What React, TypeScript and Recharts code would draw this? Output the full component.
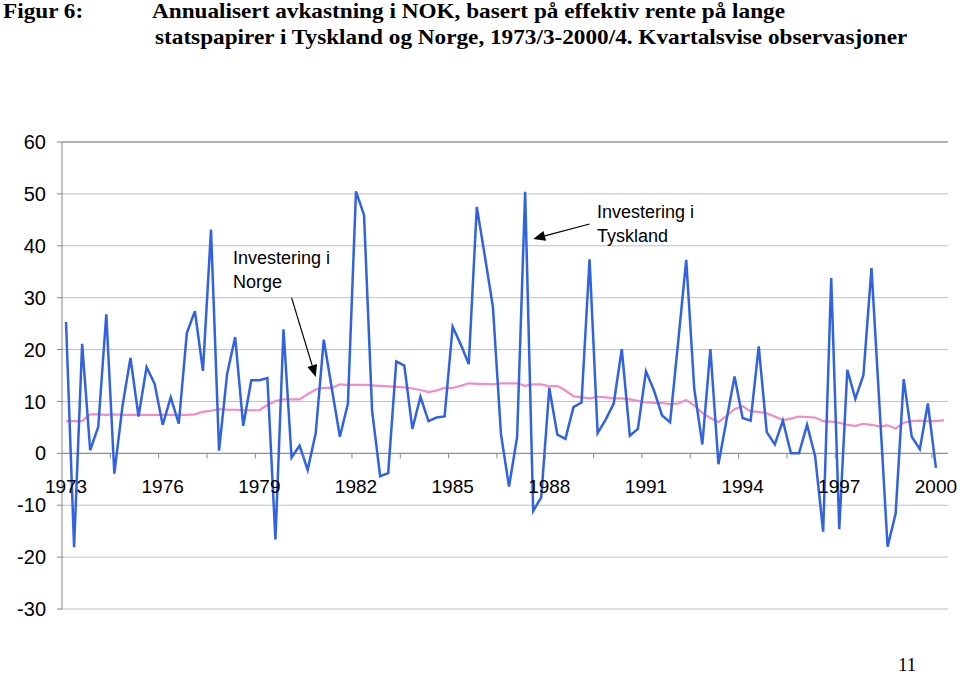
import { CartesianGrid, Line, LineChart, ReferenceLine, XAxis, YAxis } from "recharts";

// Kvartalsvis avkastning, 1973/3 - 2000/4
const tyskland: (number | null)[] = [
  25.3, -18.1, 21.1, 0.6, 5.1, 26.8, -3.9, 9.0, 18.4, 7.1,
  16.6, 13.4, 5.5, 10.8, 5.7, 23.2, 27.4, 15.9, 43.1, 0.5,
  15.3, 22.4, 5.3, 14.1, 14.1, 14.5, -16.6, 23.9, -0.8, 1.5,
  -3.2, 3.9, 21.9, 12.5, 3.2, 9.6, 50.5, 45.9, 8.2, -4.4,
  -3.8, 17.7, 16.9, 4.7, 10.9, 6.2, 6.9, 7.1, 24.4, 21.0,
  17.2, 47.5, 38.0, 28.2, 3.7, -6.4, 3.1, 50.4, -11.1, -8.5,
  12.6, 3.6, 2.8, 8.9, 9.8, 37.4, 3.9, 6.5, 9.6, 20.1,
  3.4, 4.7, 15.8, 12.1, 7.3, 6.0, 21.5, 37.3, 12.4, 1.7,
  20.1, -2.1, 6.4, 14.8, 6.8, 6.3, 20.6, 4.1, 1.7, 6.3,
  0.0, 0.0, 5.5, -0.5, -15.1, 33.8, -14.6, 16.1, 10.5, 15.1,
  35.7, 9.0, -18.0, -11.6, 14.3, 3.2, 0.8, 9.6, -2.8, null,
];

const norge: number[] = [
  6.2, 6.2, 6.2, 7.5, 7.5, 7.4, 7.5, 7.4, 7.4, 7.4,
  7.4, 7.4, 7.4, 7.4, 7.4, 7.4, 7.5, 8.0, 8.2, 8.5,
  8.4, 8.4, 8.3, 8.3, 8.3, 9.3, 10.1, 10.4, 10.4, 10.4,
  11.4, 12.3, 12.6, 12.6, 13.3, 13.2, 13.2, 13.2, 13.1, 13.0,
  12.9, 12.8, 12.7, 12.5, 12.2, 11.8, 12.1, 12.6, 12.6, 13.0,
  13.5, 13.4, 13.4, 13.3, 13.5, 13.5, 13.5, 13.0, 13.3, 13.3,
  12.9, 13.0, 12.1, 11.0, 10.8, 10.6, 10.9, 10.8, 10.6, 10.6,
  10.4, 10.1, 9.8, 9.7, 9.7, 9.5, 9.6, 10.3, 9.2, 7.8,
  6.8, 6.0, 7.2, 8.5, 9.1, 8.1, 8.0, 7.7, 7.1, 6.4,
  6.7, 7.1, 7.0, 6.9, 6.2, 6.1, 5.9, 5.5, 5.3, 5.7,
  5.5, 5.2, 5.4, 4.8, 5.9, 6.2, 6.3, 6.2, 6.2, 6.4,
];

const yearLabels = ["1973", "1976", "1979", "1982", "1985", "1988", "1991", "1994", "1997", "2000"];
const yTicks = [-30, -20, -10, 0, 10, 20, 30, 40, 50, 60];

const quarters: string[] = [];
for (let y = 1973; y <= 2000; y++) {
  for (let q = 1; q <= 4; q++) {
    if (y === 1973 && q < 3) continue;
    quarters.push(`${y}/${q}`);
  }
}

const data = quarters.map((q, i) => ({
  q,
  tyskland: tyskland[i] ?? null,
  norge: norge[i],
}));

const W = 960;
const H = 676;
const MARGIN = { top: 142, right: 12, bottom: 37, left: 0 };
const Y_AXIS_W = 62;
const X_AXIS_H = 30;
const PLOT_W = W - MARGIN.left - MARGIN.right - Y_AXIS_W;
const PLOT_H = H - MARGIN.top - MARGIN.bottom - X_AXIS_H;
const PAD = PLOT_W / quarters.length / 2;
const STEP = (PLOT_W - 2 * PAD) / (quarters.length - 1);
const ZERO_Y = MARGIN.top + (PLOT_H * 60) / 90;

const XTick = (props: any) => {
  const { x, payload } = props;
  const value: string = payload.value;
  const year = value.slice(0, 4);
  const showLabel = value.endsWith("/3") && yearLabels.includes(year);
  const bx = x - STEP / 2;
  return (
    <g>
      {props.index > 0 && <line x1={bx} x2={bx} y1={ZERO_Y} y2={ZERO_Y + 5} stroke="#868686" />}
      {showLabel && (
        <text x={x} y={ZERO_Y + 40} textAnchor="middle" fontSize={19} fill="#000">
          {year}
        </text>
      )}
    </g>
  );
};

const Arrow = (props: any) => {
  const { x1, y1, x2, y2, id } = props;
  const ang = Math.atan2(y2 - y1, x2 - x1);
  const len = 12;
  const half = 5;
  const bx = x2 - len * Math.cos(ang);
  const by = y2 - len * Math.sin(ang);
  const px = -Math.sin(ang) * half;
  const py = Math.cos(ang) * half;
  return (
    <g key={id}>
      <line x1={x1} y1={y1} x2={bx} y2={by} stroke="#000" strokeWidth={1.2} />
      <polygon points={`${x2},${y2} ${bx + px},${by + py} ${bx - px},${by - py}`} fill="#000" />
    </g>
  );
};

const noteStyle: React.CSSProperties = {
  position: "absolute",
  fontFamily: "'Liberation Sans', Arial, sans-serif",
  fontSize: 18,
  lineHeight: "24px",
  color: "#000",
  whiteSpace: "nowrap",
};

// the scanned title is a bit wider than plain Times
const titleStyle: React.CSSProperties = {
  position: "absolute",
  fontFamily: "'Liberation Serif', 'Times New Roman', serif",
  fontWeight: "bold",
  fontSize: 21.5,
  lineHeight: "26px",
  whiteSpace: "nowrap",
  color: "#000",
  transform: "scaleX(1.08)",
  transformOrigin: "left top",
};

export default function App() {
  return (
    <div
      style={{
        position: "absolute",
        left: 0,
        top: 0,
        width: W,
        height: H,
        background: "#fff",
        fontFamily: "'Liberation Sans', Arial, sans-serif",
        overflow: "hidden",
      }}
    >
      <div style={{ ...titleStyle, left: 3, top: -2 }}>Figur 6:</div>
      <div style={{ ...titleStyle, left: 152, top: -2 }}>
        Annualisert avkastning i NOK, basert på effektiv rente på lange
      </div>
      <div style={{ ...titleStyle, left: 155, top: 24 }}>
        statspapirer i Tyskland og Norge, 1973/3-2000/4. Kvartalsvise observasjoner
      </div>

      <div style={{ position: "absolute", left: 0, top: 0 }}>
        <LineChart width={W} height={H} data={data} margin={MARGIN}>
          <CartesianGrid horizontal vertical={false} stroke="#c0c0c0" />
          <XAxis
            dataKey="q"
            height={X_AXIS_H}
            axisLine={false}
            tickLine={false}
            interval={5}
            padding={{ left: PAD, right: PAD }}
            tick={<XTick />}
          />
          <YAxis
            width={Y_AXIS_W}
            domain={[-30, 60]}
            ticks={yTicks}
            interval={0}
            tickSize={5}
            tickMargin={11}
            axisLine={{ stroke: "#868686" }}
            tickLine={{ stroke: "#868686" }}
            tick={{ fontSize: 20, fill: "#000" }}
          />
          <YAxis
            yAxisId="r"
            orientation="right"
            width={0}
            domain={[-30, 60]}
            tick={false}
            tickLine={false}
            axisLine={{ stroke: "#868686" }}
          />
          <ReferenceLine y={60} stroke="#868686" />
          <ReferenceLine y={0} stroke="#868686" />
          <Line
            dataKey="norge"
            stroke="#f28cc4"
            strokeWidth={2.2}
            dot={false}
            isAnimationActive={false}
          />
          <Line
            dataKey="tyskland"
            stroke="#3162e0"
            strokeWidth={2.5}
            dot={false}
            isAnimationActive={false}
          />
          <ReferenceLine
            segment={[
              { x: "1980/3", y: 30 },
              { x: "1981/2", y: 14.7 },
            ]}
            shape={(p: any) => <Arrow {...p} id="a1" />}
          />
          <ReferenceLine
            segment={[
              { x: "1989/4", y: 44.2 },
              { x: "1988/1", y: 41.3 },
            ]}
            shape={(p: any) => <Arrow {...p} id="a2" />}
          />
        </LineChart>
      </div>

      <div style={{ ...noteStyle, left: 233, top: 246 }}>
        Investering i
        <br />
        Norge
      </div>
      <div style={{ ...noteStyle, left: 597, top: 200 }}>
        Investering i
        <br />
        Tyskland
      </div>

      <div
        style={{
          position: "absolute",
          left: 898,
          top: 654,
          fontFamily: "'Liberation Serif', 'Times New Roman', serif",
          fontSize: 19,
        }}
      >
        11
      </div>
    </div>
  );
}
